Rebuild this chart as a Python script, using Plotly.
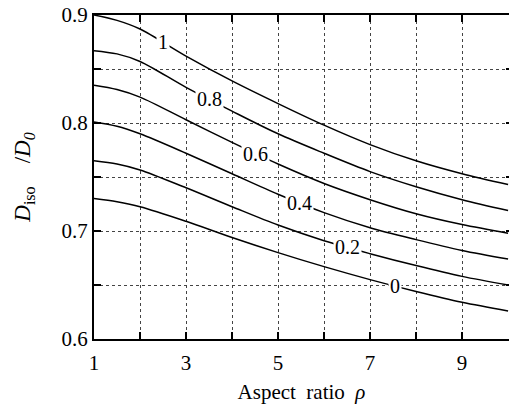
import numpy as np
import plotly.graph_objects as go

# Aspect ratio samples
rho = [1, 1.5, 2, 3, 4, 5, 6, 7, 8, 9, 10]

# D_iso / D_0 for each curve parameter
d_1 = [0.900, 0.895, 0.887, 0.862, 0.839, 0.818, 0.798, 0.780, 0.765, 0.753, 0.743]
d_08 = [0.867, 0.864, 0.857, 0.833, 0.811, 0.790, 0.772, 0.755, 0.741, 0.729, 0.719]
d_06 = [0.835, 0.831, 0.824, 0.803, 0.782, 0.762, 0.744, 0.729, 0.716, 0.706, 0.698]
d_04 = [0.801, 0.797, 0.790, 0.772, 0.753, 0.734, 0.717, 0.703, 0.692, 0.682, 0.674]
d_02 = [0.765, 0.762, 0.7565, 0.740, 0.7225, 0.7055, 0.691, 0.679, 0.668, 0.658, 0.650]
d_0 = [0.730, 0.727, 0.7225, 0.709, 0.694, 0.680, 0.667, 0.655, 0.644, 0.634, 0.626]

curve_labels = ["1", "0.8", "0.6", "0.4", "0.2", "0"]
curve_values = [d_1, d_08, d_06, d_04, d_02, d_0]
label_rho = [2.49, 3.5, 4.52, 5.47, 6.5, 7.55]

x_tickvals = [1, 3, 5, 7, 9]
y_tickvals = [0.6, 0.7, 0.8, 0.9]

SERIF = "Liberation Serif"
TICKFONT = dict(family=SERIF, size=21, color="black")

fig = go.Figure()

for vals in curve_values:
    fig.add_trace(go.Scatter(
        x=rho, y=vals, mode="lines",
        line=dict(color="black", width=1.5, shape="spline", smoothing=0.9),
        showlegend=False, hoverinfo="skip",
    ))

# invisible trace so the right-hand tick axis is drawn
fig.add_trace(go.Scatter(x=[1], y=[0.6], yaxis="y2", mode="markers",
                         marker=dict(opacity=0), showlegend=False, hoverinfo="skip"))

for lab, vals, xr in zip(curve_labels, curve_values, label_rho):
    fig.add_annotation(
        x=xr, y=float(np.interp(xr, rho, vals)), text=lab, showarrow=False,
        font=dict(family=SERIF, size=20, color="black"),
        bgcolor="white", borderpad=1,
    )

fig.update_layout(
    width=509, height=406,
    margin=dict(l=94, r=0, t=15, b=67),
    paper_bgcolor="white", plot_bgcolor="white",
    font=dict(family=SERIF, size=20, color="black"),
    xaxis=dict(
        range=[1, 10.02], tickvals=x_tickvals, ticktext=[str(v) for v in x_tickvals],
        tickfont=TICKFONT, ticklabelstandoff=4,
        ticks="inside", ticklen=7, tickwidth=1.5, tickcolor="black",
        showline=True, linecolor="black", linewidth=2, mirror="ticks",
        showgrid=True, gridcolor="#444", gridwidth=1, griddash="dot",
        minor=dict(dtick=1, tick0=0, ticks="inside", ticklen=7, tickwidth=1.5,
                   tickcolor="black", showgrid=True, gridcolor="#444",
                   gridwidth=1, griddash="dot"),
        zeroline=False,
        title=dict(text="Aspect\u00a0 ratio\u00a0 <i>ρ</i>",
                   font=dict(family=SERIF, size=21, color="black"), standoff=10),
    ),
    yaxis=dict(
        range=[0.6, 0.9], tickvals=y_tickvals, ticktext=["0.6", "0.7", "0.8", "0.9"],
        tickfont=TICKFONT, ticklabelstandoff=0,
        ticks="inside", ticklen=7, tickwidth=1.5, tickcolor="black",
        showline=True, linecolor="black", linewidth=2, mirror=False,
        showgrid=True, gridcolor="#444", gridwidth=1, griddash="dot",
        minor=dict(dtick=0.05, tick0=0.6, ticks="inside", ticklen=7, tickwidth=1.5,
                   tickcolor="black", showgrid=True, gridcolor="#444",
                   gridwidth=1, griddash="dot"),
        zeroline=False,
        title=dict(text="<i>D</i><sub>iso</sub>\u00a0\u00a0\u00a0 /<i>D</i><sub><i>0</i></sub>",
                   font=dict(family=SERIF, size=23, color="black"), standoff=24),
    ),
    yaxis2=dict(
        overlaying="y", side="right", range=[0.6, 0.9],
        tickvals=[0.6, 0.65, 0.7, 0.75, 0.8, 0.85, 0.9],
        ticks="inside", ticklen=3, tickwidth=1.5, tickcolor="black",
        showticklabels=False, showline=False, showgrid=False, zeroline=False,
    ),
)

fig.write_html("out.html")
